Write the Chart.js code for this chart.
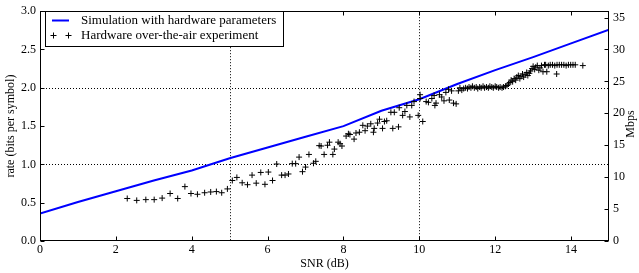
<!DOCTYPE html>
<html>
<head>
<meta charset="utf-8">
<script src="https://cdn.jsdelivr.net/npm/chart.js@4/dist/chart.umd.min.js"></script>
<style>
  html, body { margin: 0; padding: 0; background: #fff; }
  #wrap { width: 639px; height: 273px; position: relative; }
</style>
</head>
<body>
<div id="wrap"><canvas id="rateChart"></canvas></div>
<script>
// Simulation curve (SNR in dB -> rate in bits per symbol)
const simSnr  = [0, 1, 2, 3, 4, 5, 6, 7, 8, 9, 10, 11, 12, 13, 14, 15];
const simRate = [0.36, 0.51, 0.65, 0.79, 0.92, 1.08, 1.22, 1.36, 1.50, 1.70, 1.85, 2.05, 2.23, 2.40, 2.58, 2.76];

// Hardware over-the-air measurements
const hwSnr = [
  2.30, 2.55, 2.79, 3.01, 3.22, 3.43, 3.63, 3.82, 3.98, 4.15, 4.34, 4.50, 4.65, 4.79, 4.94,
  5.07, 5.19, 5.33, 5.47, 5.59, 5.70, 5.82, 5.93, 6.02, 6.13, 6.24, 6.37, 6.46, 6.55, 6.65,
  6.74, 6.83, 6.92, 7.00, 7.09, 7.21, 7.27, 7.36, 7.41, 7.49, 7.58, 7.63, 7.72, 7.76, 7.86,
  7.91, 7.96, 8.07, 8.13, 8.17, 8.28, 8.33, 8.42, 8.51, 8.57, 8.63, 8.72, 8.79, 8.81, 8.90,
  8.95, 9.03, 9.08, 9.14, 9.25, 9.30, 9.34, 9.45, 9.47, 9.56, 9.62, 9.67, 9.75, 9.80, 9.86,
  9.97, 10.02, 10.02, 10.09, 10.18, 10.24, 10.33, 10.39, 10.41, 10.44, 10.53, 10.59, 10.65, 10.70, 10.77,
  10.79, 10.85, 10.90, 10.97, 11.03, 11.07, 11.12, 11.17,
  11.22, 11.27, 11.31, 11.36, 11.40, 11.45, 11.50, 11.54, 11.59, 11.63, 11.68, 11.72, 11.77, 11.82, 11.86,
  11.91, 11.95, 12.00, 12.04, 12.09, 12.13, 12.18, 12.22, 12.27, 12.31,
  12.35, 12.39, 12.42, 12.46, 12.50, 12.54, 12.57, 12.61, 12.65, 12.68, 12.72, 12.75, 12.79, 12.83, 12.86,
  12.90, 12.93, 12.97, 13.00, 13.04, 13.07, 13.11, 13.15, 13.18, 13.22, 13.26, 13.30, 13.36, 13.62,
  13.33, 13.40, 13.45, 13.51, 13.57, 13.63, 13.69, 13.75, 13.81, 13.87, 13.93, 13.99, 14.05, 14.11, 14.31
];
const hwRate = [
  0.555, 0.53, 0.54, 0.54, 0.56, 0.62, 0.555, 0.71, 0.62, 0.61, 0.63, 0.64, 0.645, 0.63, 0.68,
  0.79, 0.83, 0.76, 0.735, 0.86, 0.755, 0.895, 0.74, 0.90, 0.79, 1.005, 0.86, 0.86, 0.875, 1.01,
  1.01, 1.095, 0.905, 0.965, 1.13, 1.015, 1.04, 1.245, 1.24, 1.13, 1.25, 1.29, 1.13, 1.20, 1.29,
  1.27, 1.24, 1.37, 1.40, 1.39, 1.33, 1.41, 1.42, 1.51, 1.44, 1.50, 1.53, 1.42, 1.47, 1.54,
  1.59, 1.47, 1.56, 1.57, 1.68, 1.47, 1.68, 1.49, 1.74, 1.64, 1.69, 1.77, 1.62, 1.77, 1.82,
  1.64, 1.91, 1.86, 1.56, 1.82, 1.81, 1.86, 1.90, 1.77, 1.80, 1.91, 1.88, 1.83, 1.94, 1.98,
  1.84, 1.96, 1.80, 1.79, 1.96, 2.00, 1.97, 1.99,
  2.00, 1.99, 2.01, 2.00, 2.02, 2.00, 2.01, 1.99, 2.01, 2.00, 2.02, 2.00, 2.01, 2.00, 2.02,
  2.01, 2.00, 2.02, 2.01, 2.00, 2.01, 2.00, 2.01, 2.02, 2.03,
  2.05, 2.07, 2.10, 2.08, 2.12, 2.10, 2.14, 2.16, 2.12, 2.15, 2.18, 2.14, 2.17, 2.20, 2.16,
  2.19, 2.22, 2.25, 2.28, 2.24, 2.27, 2.29, 2.23, 2.26, 2.29, 2.21, 2.30, 2.21, 2.18,
  2.30, 2.29, 2.30, 2.30, 2.29, 2.30, 2.30, 2.30, 2.30, 2.29, 2.30, 2.30, 2.30, 2.30, 2.29
];

// Tick labels and dotted guide positions
const snrTicks  = [0, 2, 4, 6, 8, 10, 12, 14];
const rateTicks = [0.0, 0.5, 1.0, 1.5, 2.0, 2.5, 3.0];
const mbpsTicks = [0, 5, 10, 15, 20, 25, 30, 35];
const snrGuides  = [5, 10];
const rateGuides = [1.0, 2.0];

const FONT = "'Liberation Serif', 'DejaVu Serif', serif";

const toPoints = (xs, ys) => xs.map((x, i) => ({ x: x, y: ys[i] }));

// frame, inward tick marks, dotted guides, right title and legend
const decorPlugin = {
  id: 'decor',
  beforeDatasetsDraw(chart) {
    const { ctx, chartArea: a, scales } = chart;
    ctx.save();
    ctx.strokeStyle = '#000';
    ctx.lineWidth = 1;
    ctx.setLineDash([1, 2]);
    snrGuides.forEach(v => {
      const px = Math.round(scales.x.getPixelForValue(v)) + 0.5;
      ctx.beginPath(); ctx.moveTo(px, a.top); ctx.lineTo(px, a.bottom); ctx.stroke();
    });
    rateGuides.forEach(v => {
      const py = Math.round(scales.y.getPixelForValue(v)) + 0.5;
      ctx.beginPath(); ctx.moveTo(a.left, py); ctx.lineTo(a.right, py); ctx.stroke();
    });
    ctx.restore();
  },
  afterDraw(chart) {
    const { ctx, chartArea: a, scales } = chart;
    const L = Math.round(a.left) + 0.5, R = Math.round(a.right) - 0.5;
    const T = Math.round(a.top) + 0.5, B = Math.round(a.bottom) - 0.5;
    ctx.save();
    ctx.strokeStyle = '#000';
    ctx.lineWidth = 1;
    ctx.setLineDash([]);
    ctx.strokeRect(L, T, R - L, B - T);

    const tick = 4;
    ctx.beginPath();
    snrTicks.forEach(v => {
      const px = Math.round(scales.x.getPixelForValue(v)) + 0.5;
      ctx.moveTo(px, B); ctx.lineTo(px, B - tick);
      ctx.moveTo(px, T); ctx.lineTo(px, T + tick);
    });
    rateTicks.forEach(v => {
      const py = Math.round(scales.y.getPixelForValue(v)) + 0.5;
      ctx.moveTo(L, py); ctx.lineTo(L + tick, py);
    });
    mbpsTicks.forEach(v => {
      const py = Math.round(scales.y1.getPixelForValue(v)) + 0.5;
      ctx.moveTo(R, py); ctx.lineTo(R - tick, py);
    });
    ctx.stroke();

    // right axis title, reading bottom to top
    ctx.fillStyle = '#000';
    ctx.font = '12px ' + FONT;
    ctx.textAlign = 'center';
    ctx.textBaseline = 'middle';
    ctx.save();
    ctx.translate(631, (a.top + a.bottom) / 2 - 2);
    ctx.rotate(-Math.PI / 2);
    ctx.fillText('Mbps', 0, 0);
    ctx.restore();

    // legend box
    const bx = 45.5, by = 11.5, bw = 238, bh = 35;
    ctx.fillStyle = '#fff';
    ctx.fillRect(bx, by, bw, bh);
    ctx.strokeRect(bx, by, bw, bh);
    const sim = chart.data.datasets[0];
    const hw = chart.data.datasets[1];
    const row1 = by + 9, row2 = by + 24;
    ctx.strokeStyle = sim.borderColor;
    ctx.lineWidth = sim.borderWidth;
    ctx.beginPath(); ctx.moveTo(52, row1); ctx.lineTo(69, row1); ctx.stroke();
    ctx.strokeStyle = hw.borderColor;
    ctx.lineWidth = hw.borderWidth;
    ctx.beginPath();
    [53.5, 68.5].forEach(cx => {
      ctx.moveTo(cx - 3, row2); ctx.lineTo(cx + 3, row2);
      ctx.moveTo(cx, row2 - 3); ctx.lineTo(cx, row2 + 3);
    });
    ctx.stroke();
    ctx.fillStyle = '#000';
    ctx.font = '13px ' + FONT;
    ctx.textAlign = 'left';
    ctx.fillText(sim.label, 81, row1);
    ctx.fillText(hw.label, 81, row2);
    ctx.restore();
  }
};

const ctx = document.getElementById('rateChart').getContext('2d');
new Chart(ctx, {
  type: 'scatter',
  data: {
    datasets: [
      {
        label: 'Simulation with hardware parameters',
        data: toPoints(simSnr, simRate),
        showLine: true,
        borderColor: '#0000ff',
        backgroundColor: '#0000ff',
        borderWidth: 2,
        pointRadius: 0,
        tension: 0,
        order: 1
      },
      {
        label: 'Hardware over-the-air experiment',
        data: toPoints(hwSnr, hwRate),
        showLine: false,
        pointStyle: 'cross',
        pointRadius: 3,
        borderColor: '#000',
        borderWidth: 1,
        order: 0
      }
    ]
  },
  options: {
    responsive: true,
    maintainAspectRatio: false,
    animation: false,
    devicePixelRatio: 1,
    layout: { padding: { top: 7, right: 0, bottom: 0, left: 0 } },
    plugins: {
      legend: { display: false },
      tooltip: { enabled: false }
    },
    scales: {
      x: {
        type: 'linear',
        position: 'bottom',
        min: 0,
        max: 15,
        afterBuildTicks: s => { s.ticks = snrTicks.map(v => ({ value: v })); },
        afterFit: s => { s.height = 32; },
        grid: { display: false, drawTicks: false },
        border: { display: false },
        ticks: {
          color: '#000',
          font: { family: FONT, size: 12 },
          padding: 2,
          maxRotation: 0,
          autoSkip: false
        },
        title: {
          display: true,
          text: 'SNR (dB)',
          color: '#000',
          font: { family: FONT, size: 12 },
          padding: { top: 0, bottom: 2 }
        }
      },
      y: {
        type: 'linear',
        position: 'left',
        min: 0,
        max: 3,
        afterBuildTicks: s => { s.ticks = rateTicks.map(v => ({ value: v })); },
        afterFit: s => { s.width = 40; },
        grid: { display: false, drawTicks: false },
        border: { display: false },
        ticks: {
          color: '#000',
          font: { family: FONT, size: 12 },
          padding: 4,
          callback: v => v.toFixed(1)
        },
        title: {
          display: true,
          text: 'rate (bits per symbol)',
          color: '#000',
          font: { family: FONT, size: 12 },
          padding: { top: 4, bottom: 0 }
        }
      },
      y1: {
        type: 'linear',
        position: 'right',
        display: true,
        min: 0,
        max: 36,
        afterBuildTicks: s => { s.ticks = mbpsTicks.map(v => ({ value: v })); },
        afterFit: s => { s.width = 30; },
        grid: { display: false, drawTicks: false },
        border: { display: false },
        ticks: {
          color: '#000',
          font: { family: FONT, size: 12 },
          padding: 4
        }
      }
    }
  },
  plugins: [decorPlugin]
});
</script>
</body>
</html>
